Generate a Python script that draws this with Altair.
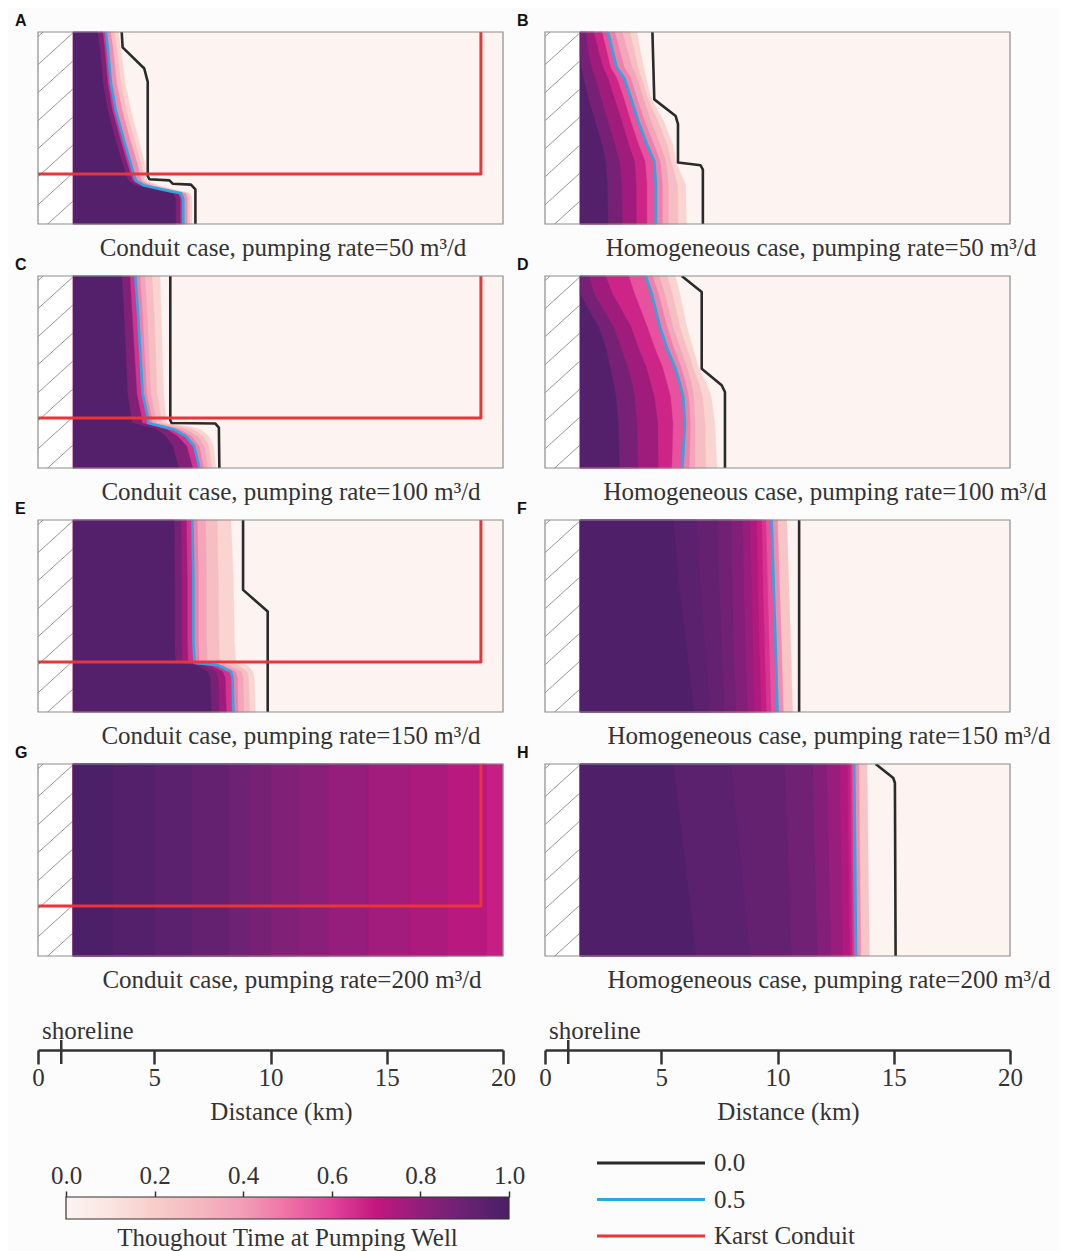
import altair as alt
import pandas as pd

SERIF = "Liberation Serif"
SANS = "Liberation Sans"
DARK = "#333333"
BLACK = "#2a2a2a"
BLUE = "#27a9e1"
RED = "#e8353b"

# ---------------- data ----------------
panels = ["A", "B", "C", "D", "E", "F", "G", "H"]
titles = {
    "A": "Conduit case, pumping rate=50 m³/d",
    "B": "Homogeneous case,  pumping rate=50 m³/d",
    "C": "Conduit case, pumping rate=100 m³/d",
    "D": "Homogeneous case,  pumping rate=100 m³/d",
    "E": "Conduit case, pumping rate=150 m³/d",
    "F": "Homogeneous case,  pumping rate=150 m³/d",
    "G": "Conduit case, pumping rate=200 m³/d",
    "H": "Homogeneous case,  pumping rate=200 m³/d",
}
has_conduit = {"A": True, "B": False, "C": True, "D": False,
               "E": True, "F": False, "G": True, "H": False}

HATCH_KM = 1.5          # inland edge of hatched zone
SHORELINE_KM = 1.0
conduit_x = [0.0, 19.05, 19.05]
conduit_y = [0.74, 0.74, 0.0]   # depth fraction, 0 = top

# 0.0 contour (black)
black_x = {
    "A": [3.60, 3.64, 4.57, 4.72, 4.72, 4.79, 5.65, 5.79, 6.58, 6.77, 6.77],
    "B": [4.62, 4.70, 5.62, 5.72, 5.72, 6.69, 6.79, 6.79],
    "C": [5.69, 5.69, 5.75, 7.62, 7.78, 7.80],
    "D": [5.88, 6.74, 6.74, 7.60, 7.74, 7.74],
    "E": [8.82, 8.82, 9.88, 9.88],
    "F": [10.93, 10.93],
    "G": [],
    "H": [14.22, 14.98, 15.05, 15.08],
}
black_y = {
    "A": [0, .08, .19, .26, .75, .767, .773, .79, .795, .82, 1.0],
    "B": [0, .351, .438, .48, .68, .694, .717, 1.0],
    "C": [0, .752, .766, .768, .79, 1.0],
    "D": [0, .083, .483, .569, .604, 1.0],
    "E": [0, .364, .477, 1.0],
    "F": [0, 1.0],
    "G": [],
    "H": [0, .073, .099, 1.0],
}
# 0.5 contour (blue)
blue_x = {
    "A": [2.92, 3.00, 3.14, 3.35, 3.71, 4.00, 4.14, 4.22, 4.57, 5.72, 6.15, 6.25, 6.25],
    "B": [2.71, 2.91, 3.09, 3.40, 3.70, 4.01, 4.39, 4.70, 4.77, 4.77],
    "C": [4.19, 4.31, 4.50, 4.72, 4.74, 5.43, 5.86, 6.37, 6.72, 6.94],
    "D": [4.33, 4.59, 4.95, 5.23, 5.59, 5.81, 5.95, 6.02, 5.91],
    "E": [6.64, 6.68, 6.68, 6.72, 6.75, 7.73, 8.30, 8.37, 8.40],
    "F": [9.75, 9.85, 9.93, 10.00],
    "G": [],
    "H": [13.30, 13.38],
}
blue_y = {
    "A": [0, .08, .27, .41, .57, .69, .75, .776, .80, .83, .84, .87, 1.0],
    "B": [0, .099, .186, .238, .343, .464, .586, .673, .795, 1.0],
    "C": [0, .21, .613, .734, .766, .786, .80, .835, .887, 1.0],
    "D": [0, .092, .266, .37, .474, .561, .63, .77, 1.0],
    "E": [0, .304, .632, .727, .744, .756, .791, .822, 1.0],
    "F": [0, .39, .69, 1.0],
    "G": [],
    "H": [0, 1.0],
}
# depth rows at which the filled-level boundaries are read
fill_y = dict(blue_y, G=[0, 1.0])
# x position (km) where throughout time drops below each level
fill_x = {
    "A": {0.9: [2.55, 2.65, 2.80, 3.00, 3.35, 3.65, 3.80, 3.90, 4.20, 5.30, 5.80, 5.92, 5.92],
          0.7: [2.78, 2.86, 3.00, 3.20, 3.56, 3.85, 4.00, 4.08, 4.42, 5.55, 6.02, 6.12, 6.12],
          0.3: [3.12, 3.22, 3.38, 3.62, 3.98, 4.28, 4.40, 4.45, 4.85, 5.95, 6.35, 6.42, 6.42],
          0.2: [3.28, 3.38, 3.56, 3.80, 4.16, 4.44, 4.52, 4.58, 5.02, 6.08, 6.45, 6.52, 6.52],
          0.1: [3.45, 3.55, 3.75, 4.00, 4.35, 4.60, 4.65, 4.70, 5.20, 6.20, 6.55, 6.62, 6.62]},
    "B": {0.9: [1.50, 1.50, 1.55, 1.65, 1.85, 2.15, 2.45, 2.60, 2.68, 2.71],
          0.8: [1.75, 1.85, 2.00, 2.15, 2.40, 2.70, 3.00, 3.20, 3.30, 3.32],
          0.7: [2.10, 2.30, 2.50, 2.70, 2.98, 3.30, 3.60, 3.85, 3.92, 3.93],
          0.6: [2.45, 2.65, 2.82, 3.08, 3.38, 3.68, 4.02, 4.30, 4.38, 4.38],
          0.4: [3.00, 3.22, 3.42, 3.68, 3.95, 4.28, 4.68, 4.95, 5.05, 5.05],
          0.3: [3.32, 3.55, 3.75, 3.95, 4.22, 4.55, 4.95, 5.20, 5.30, 5.31],
          0.2: [3.65, 3.85, 4.00, 4.15, 4.40, 4.85, 5.25, 5.42, 5.70, 5.72],
          0.1: [3.95, 4.10, 4.25, 4.35, 4.55, 5.10, 5.50, 5.62, 6.05, 6.08]},
    "C": {0.9: [3.60, 3.70, 3.85, 4.00, 4.05, 4.70, 5.10, 5.50, 5.80, 6.05],
          0.7: [3.95, 4.05, 4.25, 4.45, 4.48, 5.15, 5.55, 6.00, 6.40, 6.65],
          0.4: [4.38, 4.50, 4.67, 4.88, 4.92, 5.65, 6.10, 6.60, 6.93, 7.12],
          0.3: [4.60, 4.70, 4.85, 5.05, 5.10, 5.90, 6.35, 6.85, 7.15, 7.30],
          0.2: [4.90, 5.00, 5.12, 5.28, 5.32, 6.25, 6.68, 7.10, 7.35, 7.48],
          0.1: [5.25, 5.30, 5.40, 5.50, 5.55, 6.60, 7.00, 7.35, 7.55, 7.65]},
    "D": {0.9: [1.50, 1.50, 2.30, 2.60, 2.80, 2.95, 3.05, 3.15, 3.20],
          0.8: [1.90, 2.10, 2.95, 3.25, 3.55, 3.75, 3.85, 3.95, 4.00],
          0.7: [2.60, 2.90, 3.70, 4.00, 4.35, 4.55, 4.70, 4.85, 4.87],
          0.6: [3.60, 3.85, 4.40, 4.70, 5.05, 5.25, 5.40, 5.50, 5.45],
          0.4: [4.62, 4.88, 5.25, 5.52, 5.85, 6.05, 6.18, 6.25, 6.20],
          0.3: [4.90, 5.15, 5.50, 5.80, 6.10, 6.30, 6.40, 6.45, 6.45],
          0.2: [5.25, 5.48, 5.80, 6.08, 6.35, 6.62, 6.78, 6.88, 6.92],
          0.1: [5.60, 5.80, 6.10, 6.35, 6.60, 6.95, 7.15, 7.30, 7.40]},
    "E": {0.9: [5.85, 5.88, 5.88, 5.90, 5.92, 6.80, 7.30, 7.40, 7.45],
          0.8: [6.15, 6.18, 6.18, 6.20, 6.22, 7.10, 7.65, 7.75, 7.80],
          0.7: [6.38, 6.42, 6.42, 6.45, 6.48, 7.40, 7.95, 8.05, 8.10],
          0.4: [6.85, 6.90, 6.90, 6.93, 6.95, 7.95, 8.50, 8.58, 8.60],
          0.3: [7.20, 7.25, 7.25, 7.28, 7.30, 8.20, 8.75, 8.82, 8.85],
          0.2: [7.70, 7.75, 7.78, 7.80, 7.82, 8.60, 9.00, 9.05, 9.10],
          0.1: [8.30, 8.40, 8.45, 8.50, 8.52, 9.00, 9.25, 9.30, 9.35]},
    "F": {0.95: [5.50, 5.80, 6.10, 6.40],
          0.925: [6.50, 6.70, 6.90, 7.10],
          0.9: [7.40, 7.50, 7.60, 7.70],
          0.85: [8.00, 8.05, 8.12, 8.20],
          0.8: [8.50, 8.55, 8.62, 8.70],
          0.75: [8.82, 8.88, 8.94, 9.00],
          0.7: [9.10, 9.16, 9.22, 9.30],
          0.65: [9.32, 9.38, 9.45, 9.52],
          0.6: [9.50, 9.58, 9.65, 9.72],
          0.3: [10.00, 10.10, 10.18, 10.25],
          0.1: [10.40, 10.50, 10.58, 10.65]},
    "G": {0.975: [3.2, 3.2], 0.95: [5.0, 5.0], 0.925: [6.6, 6.6], 0.9: [8.2, 8.2],
          0.875: [9.1, 9.1], 0.85: [10.0, 10.0], 0.825: [11.2, 11.2], 0.8: [12.5, 12.5],
          0.775: [14.2, 14.2], 0.75: [16.0, 16.0], 0.725: [17.6, 17.6],
          0.7: [19.3, 19.3], 0.65: [20.0, 20.0]},
    "H": {0.95: [5.5, 6.5], 0.925: [8.0, 8.8], 0.9: [10.3, 10.6], 0.85: [11.5, 11.7],
          0.8: [12.1, 12.3], 0.75: [12.65, 12.8], 0.7: [13.0, 13.1],
          0.65: [13.12, 13.2], 0.6: [13.2, 13.28],
          0.3: [13.5, 13.58], 0.1: [13.85, 13.95]},
}

distance_ticks = [0, 5, 10, 15, 20]
colorbar_ticks = [0.0, 0.2, 0.4, 0.6, 0.8, 1.0]
legend_labels = ["0.0", "0.5", "Karst Conduit"]

# ---------------- style ----------------
cmap_pos = [0, .1, .2, .3, .4, .5, .6, .7, .8, .9, 1.0]
cmap_col = ["#fdf4f1", "#fbe4e1", "#f8cdc9", "#f5b8c0", "#f29db6", "#ee72a6",
            "#e2449a", "#c2177f", "#911e7b", "#6a2272", "#4a1f68"]
legend_colors = [BLACK, BLUE, RED]
PW, PH = 465, 192
title_cx = {"A": 245, "B": 276, "C": 253, "D": 280, "E": 253, "F": 284, "G": 254, "H": 284}

XS = alt.Scale(domain=[0, 20], nice=False, zero=False)
YS = alt.Scale(domain=[0, 1], nice=False, zero=False, reverse=True)


def cmap(v):
    """colour of the colour bar at value v (piecewise linear in rgb)"""
    for k in range(len(cmap_pos) - 1):
        if v <= cmap_pos[k + 1] or k == len(cmap_pos) - 2:
            t = (v - cmap_pos[k]) / (cmap_pos[k + 1] - cmap_pos[k])
            t = min(max(t, 0.0), 1.0)
            a = [int(cmap_col[k][j:j + 2], 16) for j in (1, 3, 5)]
            b = [int(cmap_col[k + 1][j:j + 2], 16) for j in (1, 3, 5)]
            return "#" + "".join("%02x" % round(a[j] + (b[j] - a[j]) * t) for j in range(3))


def box_layer(x0, x1, y0, y1, **mk):
    df = pd.DataFrame({"x0": [x0], "x1": [x1], "y0": [y0], "y1": [y1]})
    return alt.Chart(df).mark_rect(**mk).encode(
        x=alt.X("x0:Q", scale=XS, axis=None), x2="x1:Q",
        y=alt.Y("y0:Q", scale=YS, axis=None), y2="y1:Q")


def band_layer(xs, ys, v):
    # filled polygon: hatch edge -> level boundary (top to bottom) -> hatch edge
    px = [HATCH_KM] + list(xs) + [HATCH_KM]
    py = [ys[0]] + list(ys) + [ys[-1]]
    df = pd.DataFrame({"x": px, "y": py, "i": list(range(len(px)))})
    col = cmap(v)
    return alt.Chart(df).mark_line(fill=col, stroke=col, strokeWidth=0.4,
                                   interpolate="linear").encode(
        x=alt.X("x:Q", scale=XS, axis=None),
        y=alt.Y("y:Q", scale=YS, axis=None),
        order=alt.Order("i:Q"))


def path_layer(xs, ys, color, width):
    df = pd.DataFrame({"x": xs, "y": ys, "i": list(range(len(xs)))})
    return alt.Chart(df).mark_line(color=color, strokeWidth=width, strokeJoin="round",
                                   clip=True).encode(
        x=alt.X("x:Q", scale=XS, axis=None),
        y=alt.Y("y:Q", scale=YS, axis=None),
        order=alt.Order("i:Q"))


def hatch_layer():
    starts = [0.024 + 0.146 * k for k in range(8)]
    df = pd.DataFrame({"x0": [0.0] * len(starts), "x1": [HATCH_KM] * len(starts),
                       "y0": starts, "y1": [s - 0.165 for s in starts]})
    return alt.Chart(df).mark_rule(color="#7a7a7a", strokeWidth=0.8, clip=True).encode(
        x=alt.X("x0:Q", scale=XS, axis=None), x2="x1:Q",
        y=alt.Y("y0:Q", scale=YS, axis=None), y2="y1:Q")


def panel(p, col):
    layers = [box_layer(0, 20, 0, 1, color=cmap_col[0]),
              box_layer(0, HATCH_KM, 0, 1, color="white"),
              hatch_layer()]
    levels = dict(fill_x[p])
    if blue_x[p]:
        levels[0.5] = blue_x[p]
    lv = sorted(levels)
    for i, L in enumerate(lv):
        nxt = lv[i + 1] if i + 1 < len(lv) else 1.0
        layers.append(band_layer(levels[L], fill_y[p], L + 0.7 * (nxt - L)))
    if black_x[p]:
        layers.append(path_layer(black_x[p], black_y[p], BLACK, 2.6))
    if blue_x[p]:
        layers.append(path_layer(blue_x[p], blue_y[p], BLUE, 2.6))
    if has_conduit[p]:
        layers.append(path_layer(conduit_x, conduit_y, RED, 3))
    layers.append(box_layer(0, 20, 0, 1, filled=False, stroke="#8c8c8c", strokeWidth=1.2))
    layers.append(alt.Chart(pd.DataFrame({"t": [p]})).mark_text(
        font=SANS, fontWeight="bold", fontSize=16, align="left", baseline="middle",
        color="#111111").encode(text="t:N", x=alt.value(-23 if col == 0 else -28),
                                y=alt.value(-11)))
    layers.append(alt.Chart(pd.DataFrame({"t": [titles[p]]})).mark_text(
        font=SERIF, fontSize=25, align="center", baseline="middle", color=DARK).encode(
        text="t:N", x=alt.value(title_cx[p]), y=alt.value(PH + 24)))
    return alt.layer(*layers).properties(width=PW, height=PH)


def distance_axis():
    ax = alt.Axis(values=distance_ticks, format="d", title="Distance (km)", orient="bottom",
                  domainColor=DARK, domainWidth=2.5, tickColor=DARK, tickWidth=2.5,
                  tickSize=14, labelFont=SERIF, labelFontSize=25, labelColor=DARK,
                  labelPadding=1, labelFlush=False, labelOverlap=False, titleFont=SERIF,
                  titleFontSize=25, titleFontWeight="normal", titleColor=DARK,
                  titlePadding=9, titleX=243, grid=False)
    pts = alt.Chart(pd.DataFrame({"x": [0.0, 20.0]})).mark_point(opacity=0).encode(
        x=alt.X("x:Q", scale=XS, axis=ax))
    shore = alt.Chart(pd.DataFrame({"x": [SHORELINE_KM]})).mark_rule(
        color=DARK, strokeWidth=2.5).encode(x=alt.X("x:Q", scale=XS), y=alt.value(32),
                                            y2=alt.value(56))
    txt = alt.Chart(pd.DataFrame({"t": ["shoreline"]})).mark_text(
        font=SERIF, fontSize=25, align="left", baseline="alphabetic", color=DARK).encode(
        text="t:N", x=alt.value(4), y=alt.value(31))
    return alt.layer(pts, shore, txt).properties(width=PW, height=42)


BOTTOM_H = 117
BAR_TOP = 95


def colorbar():
    grad = alt.Gradient(gradient="linear", x1=0, x2=1, y1=0, y2=0,
                        stops=[alt.GradientStop(offset=o, color=c)
                               for o, c in zip(cmap_pos, cmap_col)])
    ax = alt.Axis(orient="top", values=colorbar_ticks, format=".1f", title="",
                  domain=False, tickSize=6, tickWidth=1.5, tickColor=DARK, offset=-BAR_TOP,
                  labelFont=SERIF, labelFontSize=25, labelColor=DARK, labelPadding=3,
                  labelFlush=False, labelOverlap=False, grid=False)
    cx = alt.Scale(domain=[0.0, 1.0], range=[28, 471], nice=False, zero=False)
    bar = alt.Chart(pd.DataFrame({"x0": [0.0], "x1": [1.0]})).mark_rect(
        fill=grad, stroke=DARK, strokeWidth=1.2).encode(
        x=alt.X("x0:Q", scale=cx, axis=ax), x2="x1:Q",
        y=alt.value(BAR_TOP), y2=alt.value(BAR_TOP + 22))
    ttl = alt.Chart(pd.DataFrame({"t": ["Thoughout Time at Pumping Well"]})).mark_text(
        font=SERIF, fontSize=25, align="center", baseline="middle", color=DARK).encode(
        text="t:N", x=alt.datum(0.5), y=alt.value(BAR_TOP + 41))
    return alt.layer(bar, ttl).properties(width=PW, height=BOTTOM_H)


def line_legend():
    df = pd.DataFrame({"lab": legend_labels})
    ly = alt.Y("lab:N", scale=alt.Scale(type="point", domain=legend_labels,
                                        range=[61, 134], padding=0), axis=None)
    lines = alt.Chart(df).mark_rule(strokeWidth=3).encode(
        x=alt.value(52), x2=alt.value(160), y=ly,
        color=alt.Color("lab:N", scale=alt.Scale(domain=legend_labels, range=legend_colors),
                        legend=None))
    txt = alt.Chart(df).mark_text(font=SERIF, fontSize=25, align="left", baseline="middle",
                                  color=DARK).encode(x=alt.value(169), y=ly, text="lab:N")
    return alt.layer(lines, txt).properties(width=PW, height=BOTTOM_H)


cells = [panel(p, i % 2) for i, p in enumerate(panels)]
cells += [distance_axis(), distance_axis(), colorbar(), line_legend()]

chart = alt.concat(*cells, columns=2, spacing={"row": 52, "column": 42},
                   bounds="flush").properties(
    padding={"left": 7, "top": 5, "right": 4, "bottom": 0},
    background="#fcfcfc",
).configure(font=SERIF, view=alt.ViewConfig(stroke="transparent", strokeWidth=0))

chart.save("out.html", embed_options={"renderer": "svg", "actions": False})
